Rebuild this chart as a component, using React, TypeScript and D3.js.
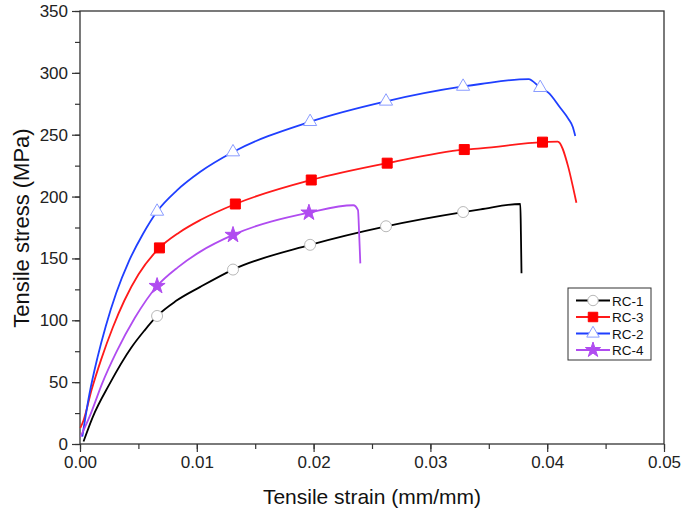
import React, { useEffect, useRef } from 'react';
import * as d3 from 'd3';

type Pt = [number, number];

// strain (mm/mm), stress (MPa)
const rc1: Pt[] = [
    [0.0003, 2], [0.0011, 22], [0.0025, 48], [0.0044, 78], [0.0055, 91.5], [0.0066, 103.5],
    [0.0082, 115.5], [0.0103, 127], [0.0131, 141], [0.0197, 161], [0.0262, 176],
    [0.0328, 187.5], [0.0343, 189.7], [0.0377, 194], [0.03775, 170], [0.0378, 138],
];
const rc3: Pt[] = [
    [0.00003, 13], [0.0003, 19], [0.001, 44], [0.0018, 68], [0.0028, 94], [0.0038, 116],
    [0.005, 137], [0.0068, 158.5], [0.0085, 171], [0.0103, 181], [0.0133, 194],
    [0.0198, 213.4], [0.0263, 227], [0.0329, 238], [0.0343, 239], [0.0396, 244],
    [0.0409, 244.4], [0.0418, 224], [0.0422, 208], [0.0425, 195],
];
const rc2: Pt[] = [
    [0.0002, 6], [0.0008, 40], [0.0015, 70], [0.0022, 95], [0.0031, 122], [0.0042, 148],
    [0.0054, 170], [0.0066, 188], [0.0083, 205], [0.0103, 220], [0.0131, 236],
    [0.0197, 260.5], [0.0262, 277], [0.0328, 289], [0.0343, 291], [0.0384, 295],
    [0.0394, 288], [0.0401, 284], [0.0411, 272], [0.0418, 263], [0.0422, 256], [0.0424, 249],
];
const rc4: Pt[] = [
    [0.00005, 6], [0.0009, 24], [0.0019, 49], [0.0031, 74], [0.0047, 102], [0.0066, 127.7],
    [0.0084, 143], [0.0103, 155.5], [0.0131, 169], [0.0196, 187], [0.0234, 193],
    [0.0238, 189], [0.0239, 170], [0.024, 146],
];

// symbol positions
const rc1Marks: Pt[] = [[0.0066, 103.5], [0.0131, 141], [0.0197, 161], [0.0262, 176], [0.0328, 187.5]];
const rc3Marks: Pt[] = [[0.0068, 158.5], [0.0133, 194], [0.0198, 213.4], [0.0263, 227], [0.0329, 238], [0.0396, 244]];
const rc2Marks: Pt[] = [[0.0066, 188], [0.0131, 236], [0.0197, 260.5], [0.0262, 277], [0.0328, 289], [0.0394, 288]];
const rc4Marks: Pt[] = [[0.0066, 127.7], [0.0131, 169], [0.0196, 187]];

const xTicks = [0, 0.01, 0.02, 0.03, 0.04, 0.05];
const yTicks = [0, 50, 100, 150, 200, 250, 300, 350];

const series = [
    { name: 'RC-1', data: rc1, marks: rc1Marks, color: '#000000', symbol: d3.symbolCircle, size: 95, fill: '#ffffff', stroke: '#b8b8b8' },
    { name: 'RC-3', data: rc3, marks: rc3Marks, color: '#ff1a1a', symbol: d3.symbolSquare, size: 100, fill: '#ff0000', stroke: '#ff0000' },
    { name: 'RC-2', data: rc2, marks: rc2Marks, color: '#1f3fff', symbol: d3.symbolTriangle, size: 75, fill: '#ffffff', stroke: '#8a9cff' },
    { name: 'RC-4', data: rc4, marks: rc4Marks, color: '#b04cf0', symbol: d3.symbolStar, size: 80, fill: '#b04cf0', stroke: '#b04cf0' },
];

const App: React.FC = () => {
    const svgRef = useRef<SVGSVGElement>(null);

    useEffect(() => {
        const svg = d3.select(svgRef.current);
        svg.selectAll('*').remove();
        const font = 'Arial, "Liberation Sans", sans-serif';

        const x = d3.scaleLinear().domain([0, 0.05]).range([80, 664]);
        const y = d3.scaleLinear().domain([0, 350]).range([444, 11]);

        // frame
        svg.append('rect')
            .attr('x', 80).attr('y', 11).attr('width', 584).attr('height', 433)
            .attr('fill', 'none').attr('stroke', '#333').attr('stroke-width', 1.3);

        // x axis
        const xAxis = svg.append('g').attr('transform', 'translate(0,444)');
        xAxis.call(d3.axisBottom(x).tickValues(d3.range(0, 0.0501, 0.005)).tickSize(5).tickFormat(() => ''));
        xAxis.call(g => g.select('.domain').remove());
        const xMajor = svg.append('g').attr('transform', 'translate(0,444)');
        xMajor.call(d3.axisBottom(x).tickValues(xTicks).tickSize(8).tickPadding(4).tickFormat(d3.format('.2f')));
        xMajor.select('.domain').remove();
        xMajor.selectAll('text').attr('font-size', 17).attr('font-family', font).attr('fill', '#222');

        // y axis
        const yAxis = svg.append('g').attr('transform', 'translate(80,0)');
        yAxis.call(d3.axisLeft(y).tickValues(d3.range(0, 351, 25)).tickSize(5).tickFormat(() => ''));
        yAxis.select('.domain').remove();
        const yMajor = svg.append('g').attr('transform', 'translate(80,0)');
        yMajor.call(d3.axisLeft(y).tickValues(yTicks).tickSize(8).tickPadding(4).tickFormat(d3.format('d')));
        yMajor.select('.domain').remove();
        yMajor.selectAll('text').attr('font-size', 17).attr('font-family', font).attr('fill', '#222');
        svg.selectAll('.tick line').attr('stroke', '#333').attr('stroke-width', 1.2);

        // titles
        svg.append('text')
            .attr('x', 372).attr('y', 504).attr('text-anchor', 'middle')
            .attr('font-size', 21).attr('font-family', font).attr('fill', '#111')
            .text('Tensile strain (mm/mm)');
        svg.append('text')
            .attr('transform', 'translate(29,228) rotate(-90)').attr('text-anchor', 'middle')
            .attr('font-size', 22).attr('font-family', font).attr('fill', '#111')
            .text('Tensile stress (MPa)');

        const line = d3.line<Pt>().x(d => x(d[0])).y(d => y(d[1])).curve(d3.curveMonotoneX);

        series.forEach(s => {
            svg.append('path')
                .attr('d', line(s.data))
                .attr('fill', 'none').attr('stroke', s.color).attr('stroke-width', 1.8);
        });
        series.forEach(s => {
            svg.append('g').selectAll('path')
                .data(s.marks).enter().append('path')
                .attr('transform', d => `translate(${x(d[0])},${y(d[1])})`)
                .attr('d', d3.symbol().type(s.symbol).size(s.size)())
                .attr('fill', s.fill).attr('stroke', s.stroke).attr('stroke-width', 1);
        });

        // legend
        const lg = svg.append('g');
        lg.append('rect').attr('x', 568).attr('y', 288).attr('width', 83).attr('height', 72)
            .attr('fill', '#fff').attr('stroke', '#333').attr('stroke-width', 1);
        series.forEach((s, i) => {
            const ly = 300.5 + i * 16.5;
            lg.append('line').attr('x1', 576).attr('x2', 610).attr('y1', ly).attr('y2', ly)
                .attr('stroke', s.color).attr('stroke-width', 1.8);
            lg.append('path').attr('transform', `translate(593,${ly})`)
                .attr('d', d3.symbol().type(s.symbol).size(s.size * 0.9)())
                .attr('fill', s.fill).attr('stroke', s.stroke).attr('stroke-width', 1);
            lg.append('text').attr('x', 612).attr('y', ly + 5)
                .attr('font-size', 13.5).attr('font-family', font).attr('fill', '#111')
                .text(s.name);
        });
    }, []);

    return <svg ref={svgRef} width={685} height={511} style={{ position: 'absolute', left: 0, top: 0, background: '#fff' }} />;
};

export default App;
